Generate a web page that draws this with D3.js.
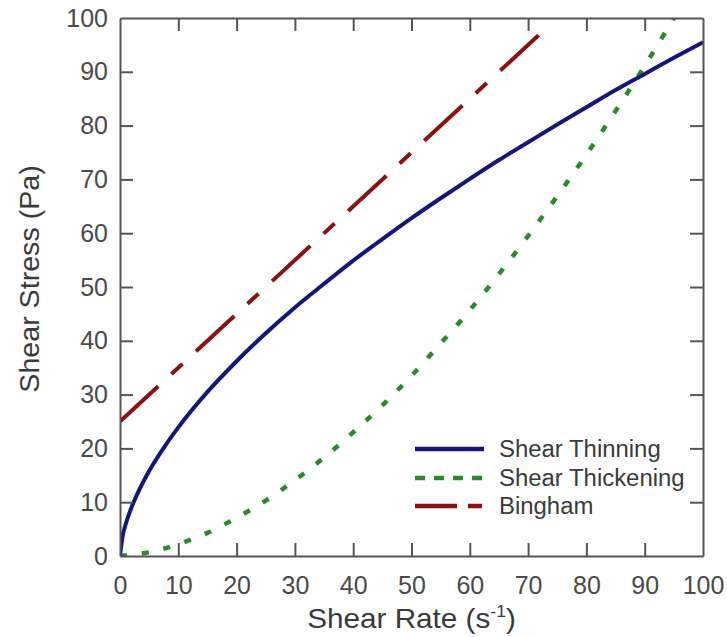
<!DOCTYPE html>
<html>
<head>
<meta charset="utf-8">
<script src="https://cdn.jsdelivr.net/npm/d3@7"></script>
<style>
  html, body { margin: 0; padding: 0; background: #fff; }
  svg { display: block; font-family: "Liberation Sans", Arial, sans-serif; }
</style>
</head>
<body>
<svg id="chart" width="727" height="637"></svg>
<script>
// ---- data ----
const thinningX = [0, 0.5, 1, 2, 3, 5, 7.5, 10, 15, 20, 25, 30, 35, 40, 45, 50, 55, 60, 65, 70, 75, 80, 85, 90, 95, 100];
const thinningY = [0, 4.0, 6.0, 9.1, 11.6, 15.8, 20.1, 23.9, 30.5, 36.2, 41.4, 46.2, 50.6, 54.9, 58.9, 62.8, 66.5, 70.1, 73.6, 76.9, 80.2, 83.4, 86.6, 89.6, 92.6, 95.5];
const thickeningX = [0, 5, 10, 15, 20, 25, 30, 35, 40, 45, 50, 55, 60, 65, 70, 75, 80, 85, 90, 95];
const thickeningY = [0, 0.7, 2.2, 4.3, 7.1, 10.3, 14.1, 18.3, 23.0, 28.0, 33.5, 39.5, 45.7, 52.4, 59.5, 66.9, 74.6, 82.7, 91.1, 100];
const binghamX = [0, 73];
const binghamY = [25, 98];
const xTicks = [0, 10, 20, 30, 40, 50, 60, 70, 80, 90, 100];
const yTicks = [0, 10, 20, 30, 40, 50, 60, 70, 80, 90, 100];
const seriesNames = ["Shear Thinning", "Shear Thickening", "Bingham"];
const seriesColors = ["#16167a", "#2a8a2a", "#8a1212"];

// ---- layout ----
const svg = d3.select("#chart");
const L = 120, R = 703, T = 18, B = 556;
const x = d3.scaleLinear().domain([0, 100]).range([L, R]);
const y = d3.scaleLinear().domain([0, 100]).range([B, T]);
const axisColor = "#555";
const textColor = "#4a4a4a";

// clip
svg.append("defs").append("clipPath").attr("id", "clip")
  .append("rect").attr("x", L).attr("y", T).attr("width", R - L).attr("height", B - T);

const line = d3.line().x(d => x(d[0])).y(d => y(d[1])).curve(d3.curveMonotoneX);
const zip = (a, b) => a.map((v, i) => [v, b[i]]);

const plot = svg.append("g").attr("clip-path", "url(#clip)");
plot.append("path").datum(zip(binghamX, binghamY))
  .attr("d", line).attr("fill", "none").attr("stroke", seriesColors[2])
  .attr("stroke-width", 4).attr("stroke-dasharray", "52,18,15,18.5");
plot.append("path").datum(zip(thickeningX, thickeningY))
  .attr("d", line).attr("fill", "none").attr("stroke", seriesColors[1])
  .attr("stroke-width", 4.5).attr("stroke-dasharray", "7,15");
plot.append("path").datum(zip(thinningX, thinningY))
  .attr("d", line).attr("fill", "none").attr("stroke", seriesColors[0])
  .attr("stroke-width", 4);

// axes (ticks inward on all four sides)
const tickLen = 13;
const gx = svg.append("g").attr("transform", `translate(0,${B})`)
  .call(d3.axisBottom(x).tickValues(xTicks).tickSizeInner(-tickLen).tickSizeOuter(0).tickPadding(20));
const gxTop = svg.append("g").attr("transform", `translate(0,${T})`)
  .call(d3.axisTop(x).tickValues(xTicks).tickSizeInner(-tickLen).tickSizeOuter(0).tickFormat(""));
const gy = svg.append("g").attr("transform", `translate(${L},0)`)
  .call(d3.axisLeft(y).tickValues(yTicks).tickSizeInner(-tickLen).tickSizeOuter(0).tickPadding(12));
const gyR = svg.append("g").attr("transform", `translate(${R},0)`)
  .call(d3.axisRight(y).tickValues(yTicks).tickSizeInner(-tickLen).tickSizeOuter(0).tickFormat(""));

[gx, gxTop, gy, gyR].forEach(g => {
  g.select(".domain").attr("stroke", axisColor).attr("stroke-width", 2);
  g.selectAll(".tick line").attr("stroke", axisColor).attr("stroke-width", 2);
  g.selectAll(".tick text").attr("fill", textColor).attr("font-size", 25)
    .attr("font-family", "'Liberation Sans', Arial, sans-serif");
});
// hide ticks at the corners that coincide with the frame
[gx, gxTop, gy, gyR].forEach(g =>
  g.selectAll(".tick").filter(d => d === 0 || d === 100).select("line").remove());

// axis titles
const xt = svg.append("text")
  .attr("transform", `translate(${(L + R) / 2},628) scale(1.1,1)`)
  .attr("text-anchor", "middle").attr("fill", "#3a3a3a").attr("font-size", 27);
xt.append("tspan").text("Shear Rate (s");
xt.append("tspan").text("-1").attr("font-size", 16).attr("dy", -11);
xt.append("tspan").text(")").attr("dy", 11);

svg.append("text")
  .attr("transform", `translate(39,279) rotate(-90) scale(1.06,1)`)
  .attr("text-anchor", "middle").attr("fill", "#3a3a3a").attr("font-size", 27)
  .text("Shear Stress (Pa)");

// legend
const legY = [449, 478, 506];
const legDash = [null, "10,9", "42,11,14,50"];
const leg = svg.append("g");
seriesNames.forEach((name, i) => {
  leg.append("line").attr("x1", 415).attr("x2", 484).attr("y1", legY[i]).attr("y2", legY[i])
    .attr("stroke", seriesColors[i]).attr("stroke-width", 4.5)
    .attr("stroke-dasharray", legDash[i]);
  leg.append("text").attr("x", 499).attr("y", legY[i] + 8)
    .attr("transform", `translate(499,0) scale(1.04,1) translate(-499,0)`)
    .attr("fill", "#3a3a3a").attr("font-size", 23).text(name);
});
</script>
</body>
</html>
